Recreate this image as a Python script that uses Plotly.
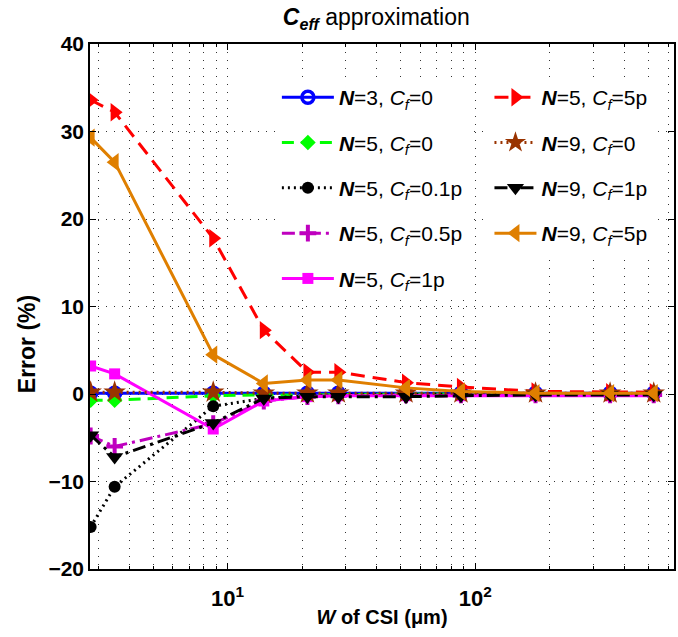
import plotly.graph_objects as go

# Width of the CSI structure (um)
W = [2.8, 3.5, 8.75, 14, 21, 28, 52.5, 87.5, 175, 350, 525]

# Relative error of the C_eff approximation (%)
err_n3_cf0 = [0.1, 0.1, 0.1, 0.1, 0.1, 0.1, 0.1, 0.1, 0.1, 0.1, 0.1]
err_n5_cf0 = [-0.7, -0.7, -0.2, -0.1, -0.1, -0.05, 0.0, 0.0, 0.0, 0.0, 0.0]
err_n5_cf01 = [-15.2, -10.6, -1.4, -0.5, -0.2, -0.1, -0.05, 0.0, 0.0, 0.0, 0.0]
err_n5_cf05 = [-4.8, -6.0, -3.4, -0.8, -0.3, -0.2, -0.1, -0.1, -0.1, -0.1, -0.1]
err_n5_cf1 = [3.2, 2.3, -4.0, -0.8, -0.3, -0.2, -0.2, -0.2, -0.2, -0.2, -0.2]
err_n5_cf5 = [33.6, 32.2, 17.8, 7.3, 2.5, 2.5, 1.3, 0.8, 0.3, 0.2, 0.2]
err_n9_cf0 = [0.2, 0.2, 0.2, 0.1, 0.1, 0.1, 0.1, 0.1, 0.1, 0.1, 0.1]
err_n9_cf1 = [-4.7, -7.2, -3.3, -0.5, -0.3, -0.3, -0.3, -0.2, -0.1, -0.1, -0.1]
err_n9_cf5 = [29.3, 26.5, 4.5, 1.2, 1.6, 1.6, 0.7, 0.3, 0.1, 0.1, 0.1]

labels = [
    "<b><i>N</i></b>=3, <i>C<sub>f</sub></i>=0",
    "<b><i>N</i></b>=5, <i>C<sub>f</sub></i>=0",
    "<b><i>N</i></b>=5, <i>C<sub>f</sub></i>=0.1p",
    "<b><i>N</i></b>=5, <i>C<sub>f</sub></i>=0.5p",
    "<b><i>N</i></b>=5, <i>C<sub>f</sub></i>=1p",
    "<b><i>N</i></b>=5, <i>C<sub>f</sub></i>=5p",
    "<b><i>N</i></b>=9, <i>C<sub>f</sub></i>=0",
    "<b><i>N</i></b>=9, <i>C<sub>f</sub></i>=1p",
    "<b><i>N</i></b>=9, <i>C<sub>f</sub></i>=5p",
]
series = [err_n3_cf0, err_n5_cf0, err_n5_cf01, err_n5_cf05, err_n5_cf1,
          err_n5_cf5, err_n9_cf0, err_n9_cf1, err_n9_cf5]

styles = [
    dict(color="#0000ff", dash="solid", symbol="circle-open", size=12, mline=3.5),
    dict(color="#00ff00", dash="12px,7px", symbol="diamond", size=12, mline=0),
    dict(color="#000000", dash="2px,4px", symbol="circle", size=12, mline=0),
    dict(color="#bf00bf", dash="13px,5px,3px,5px", symbol="cross-thin-open", size=12, mline=4),
    dict(color="#ff00ff", dash="solid", symbol="square", size=11, mline=0),
    dict(color="#ff0000", dash="14px,8px", symbol="triangle-right", size=16, mline=0),
    dict(color="#993300", dash="2px,4px", symbol="star", size=17, mline=0),
    dict(color="#000000", dash="13px,5px,3px,5px", symbol="triangle-down", size=15, mline=0),
    dict(color="#df7f00", dash="solid", symbol="triangle-left", size=16, mline=0),
]

fig = go.Figure()
for i, (lab, ys, st) in enumerate(zip(labels, series, styles)):
    fig.add_trace(go.Scatter(
        x=W, y=ys, name=lab, mode="lines+markers",
        line=dict(color=st["color"], width=3, dash=st["dash"]),
        marker=dict(symbol=st["symbol"], size=st["size"], color=st["color"],
                    line=dict(color=st["color"], width=st["mline"])),
        legend="legend" if i < 5 else "legend2",
        legendgroup=f"g{i}",
    ))

font_family = "Liberation Sans, Arial, sans-serif"
grid_dash = "1px,7px"
minor_x = [3, 4, 5, 6, 7, 8, 9, 20, 30, 40, 50, 60, 70, 80, 90,
           200, 300, 400, 500, 600]

legend_common = dict(
    bgcolor="white", borderwidth=0, tracegroupgap=15,
    font=dict(family=font_family, size=21, color="black"),
    xanchor="left", yanchor="top", itemsizing="trace",
)

fig.update_layout(
    width=678, height=637,
    margin=dict(l=90, r=2, t=44, b=68),
    paper_bgcolor="white", plot_bgcolor="white",
    title=dict(text="<b><i>C<sub>eff</sub></i></b> approximation",
               x=0.555, xanchor="center", y=0.973, yanchor="middle",
               font=dict(family=font_family, size=23, color="black")),
    legend=dict(x=0.32, y=0.937, itemwidth=52, **legend_common),
    legend2=dict(x=0.684, y=0.937, itemwidth=42, **legend_common),
    xaxis=dict(
        type="log", range=[0.4446, 2.802],
        tickvals=[10, 100], ticktext=["10<sup>1</sup>", "10<sup>2</sup>"],
        ticks="inside", ticklen=6, tickcolor="black", tickwidth=1,
        ticklabelstandoff=9,
        tickfont=dict(family=font_family, size=22, color="black", weight="bold"),
        showgrid=True, gridcolor="#333333", griddash=grid_dash, gridwidth=1,
        minor=dict(tickvals=minor_x, ticks="inside", ticklen=3, tickcolor="black",
                   showgrid=True, gridcolor="#333333", griddash=grid_dash),
        showline=True, linecolor="black", linewidth=1.5, mirror="ticks",
        zeroline=False,
        title=dict(text="<b><i>W</i> of CSI (μm)</b>", standoff=0,
                   font=dict(family=font_family, size=20, color="black")),
    ),
    yaxis=dict(
        range=[-20, 40], dtick=10, tick0=0,
        ticks="inside", ticklen=6, tickcolor="black",
        tickfont=dict(family=font_family, size=21, color="black", weight="bold"),
        showgrid=True, gridcolor="#333333", griddash=grid_dash, gridwidth=1,
        showline=True, linecolor="black", linewidth=1.5, mirror="ticks",
        zeroline=False,
    ),
    annotations=[dict(
        text="<b>Error (%)</b>", textangle=-90, showarrow=False,
        xref="paper", yref="paper", x=-0.1075, y=0.4286,
        xanchor="center", yanchor="middle",
        font=dict(family=font_family, size=23, color="black"),
    )],
)

fig.write_html("out.html")
